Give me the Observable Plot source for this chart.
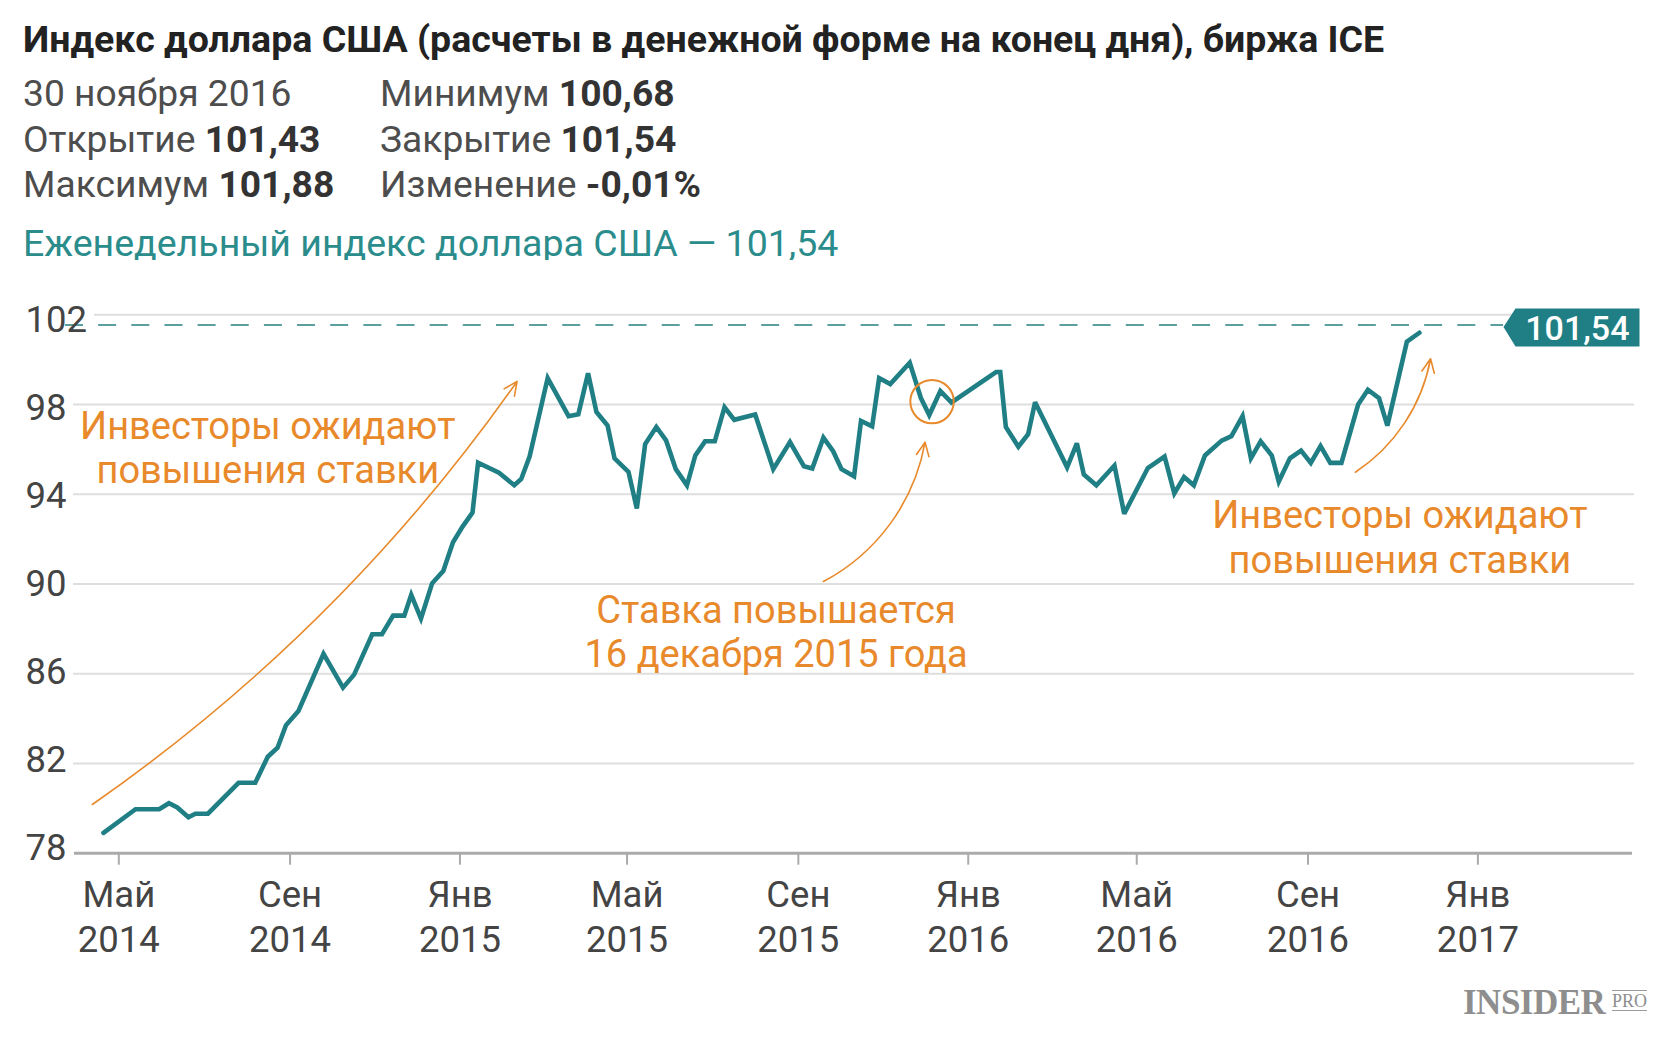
<!DOCTYPE html>
<html>
<head>
<meta charset="utf-8">
<script src="https://cdn.jsdelivr.net/npm/d3@7"></script>
<script src="https://cdn.jsdelivr.net/npm/@observablehq/plot@0.6"></script>
<style>
  html, body { margin: 0; padding: 0; background: #fff; }
  body { width: 1667px; height: 1049px; position: relative; overflow: hidden; font-family: Roboto, "Noto Sans", sans-serif; }
  .hl { position: absolute; white-space: nowrap; line-height: 45px; }
  .title { font-size: 37.5px; font-weight: 700; color: #222; }
  .stat { font-size: 37.2px; color: #4d4d4d; }
  .stat b { font-weight: 700; color: #333; }
  .series { font-size: 37.5px; color: #2b8c8c; }
  #chart { position: absolute; left: 0; top: 260px; }
  .logo { position: absolute; left: 1463px; top: 983px; font-family: "Liberation Serif", serif; font-weight: 700; font-size: 35px; line-height: 40px; color: #8e8e8e; letter-spacing: -0.5px; }
  .pro { position: absolute; left: 1612px; top: 990px; font-family: "Liberation Serif", serif; font-weight: 400; font-size: 18px; line-height: 18px; color: #8e8e8e; border-top: 1.5px solid #9a9a9a; border-bottom: 1.5px solid #9a9a9a; padding: 1px 0 0 0; }
</style>
</head>
<body>
<div id="header"></div>
<div id="chart"></div>
<div class="logo">INSIDER</div>
<div class="pro">PRO</div>
<script>
// ---------- data ----------
const title = "Индекс доллара США (расчеты в денежной форме на конец дня), биржа ICE";
const quoteDate = "30 ноября 2016";
const statLabels = ["Открытие", "Максимум", "Минимум", "Закрытие", "Изменение"];
const statValues = ["101,43", "101,88", "100,68", "101,54", "-0,01%"];
const seriesName = "Еженедельный индекс доллара США";
const lastValue = 101.54;

const dates = [
  "2014-04-20","2014-05-13","2014-05-30","2014-06-06","2014-06-12","2014-06-20","2014-06-25","2014-07-04",
  "2014-07-26","2014-08-07","2014-08-16","2014-08-23","2014-08-29","2014-09-07","2014-09-25","2014-10-09",
  "2014-10-17","2014-10-30","2014-11-06","2014-11-14","2014-11-22","2014-11-27","2014-12-04","2014-12-12",
  "2014-12-20","2014-12-27","2015-01-03","2015-01-10","2015-01-14","2015-01-29","2015-02-09","2015-02-14",
  "2015-02-20","2015-03-05","2015-03-20","2015-03-27","2015-04-03","2015-04-09","2015-04-17","2015-04-22",
  "2015-05-02","2015-05-08","2015-05-14","2015-05-22","2015-05-29","2015-06-05","2015-06-13","2015-06-19",
  "2015-06-26","2015-07-03","2015-07-10","2015-07-17","2015-08-01","2015-08-14","2015-08-26","2015-09-01",
  "2015-09-05","2015-09-11","2015-09-19","2015-09-26","2015-10-02","2015-10-11","2015-10-16","2015-10-24",
  "2015-10-29","2015-11-06","2015-11-20","2015-11-28","2015-12-04","2015-12-12","2015-12-20","2016-01-21",
  "2016-01-24","2016-01-28","2016-02-06","2016-02-13","2016-02-18","2016-03-12","2016-03-19","2016-03-24",
  "2016-04-02","2016-04-15","2016-04-22","2016-05-09","2016-05-21","2016-05-28","2016-06-04","2016-06-11",
  "2016-06-19","2016-07-01","2016-07-08","2016-07-16","2016-07-22","2016-07-29","2016-08-06","2016-08-11",
  "2016-08-19","2016-08-27","2016-09-03","2016-09-10","2016-09-17","2016-09-25","2016-10-07","2016-10-14",
  "2016-10-22","2016-10-28","2016-11-11","2016-11-20"
];
const values = [
  78.91, 79.96, 79.96, 80.23, 80.04, 79.60, 79.76, 79.76,
  81.14, 81.14, 82.30, 82.70, 83.70, 84.34, 86.89, 85.38,
  85.96, 87.76, 87.76, 88.59, 88.59, 89.52, 88.46, 90.03,
  90.58, 91.86, 92.57, 93.18, 95.41, 94.96, 94.40, 94.68,
  95.68, 99.18, 97.48, 97.57, 99.39, 97.67, 97.06, 95.60,
  95.00, 93.37, 96.24, 97.00, 96.40, 95.12, 94.40, 95.73,
  96.36, 96.36, 97.88, 97.32, 97.56, 95.12, 96.33, 95.68,
  95.25, 95.15, 96.52, 95.92, 95.12, 94.80, 97.27, 97.03,
  99.18, 98.91, 99.86, 98.29, 97.53, 98.60, 98.09, 99.45,
  99.45, 97.00, 96.12, 96.68, 98.10, 95.20, 96.27, 94.88,
  94.40, 95.28, 93.13, 95.17, 95.68, 94.04, 94.77, 94.40,
  95.73, 96.39, 96.59, 97.48, 95.60, 96.36, 95.73, 94.56,
  95.60, 95.95, 95.40, 96.15, 95.40, 95.40, 98.00, 98.66,
  98.28, 97.06, 100.80, 101.20
];

const yTicks = [78, 82, 86, 90, 94, 98, 102];
const xTickDates = ["2014-05-01","2014-09-01","2015-01-01","2015-05-01","2015-09-01","2016-01-01","2016-05-01","2016-09-01","2017-01-01"];
const xTickMonths = ["Май","Сен","Янв","Май","Сен","Янв","Май","Сен","Янв"];
const xTickYears = ["2014","2014","2015","2015","2015","2016","2016","2016","2017"];
const xDomain = ["2014-05-01", "2017-01-01"];

// annotations (in data space)
const noteLines = [
  {date: "2014-08-16", value: 96.48, text: "Инвесторы ожидают"},
  {date: "2014-08-16", value: 94.48, text: "повышения ставки"},
  {date: "2015-08-16", value: 88.28, text: "Ставка повышается"},
  {date: "2015-08-16", value: 86.28, text: "16 декабря 2015 года"},
  {date: "2016-11-06", value: 92.50, text: "Инвесторы ожидают"},
  {date: "2016-11-06", value: 90.50, text: "повышения ставки"}
];
const noteArrows = [
  {x1: "2014-04-12", y1: 80.17, x2: "2015-02-11", y2: 99.03},
  {x1: "2015-09-19", y1: 90.11, x2: "2015-12-01", y2: 96.32},
  {x1: "2016-10-05", y1: 94.98, x2: "2016-11-28", y2: 100.04}
];
const rateHike = [{date: "2015-12-06", value: 98.13}];

// ---------- header ----------
const fmt = (v) => String(v).replace(".", ",");
const header = document.getElementById("header");
function addLine(html, cls, left, top) {
  const d = document.createElement("div");
  d.className = "hl " + cls;
  d.style.left = left + "px";
  d.style.top = top + "px";
  d.innerHTML = html;
  header.appendChild(d);
}
addLine(title, "title", 23, 17.4);
addLine(quoteDate, "stat", 23, 70.8);
addLine(`${statLabels[0]} <b>${statValues[0]}</b>`, "stat", 23, 116.5);
addLine(`${statLabels[1]} <b>${statValues[1]}</b>`, "stat", 23, 162.1);
addLine(`${statLabels[2]} <b>${statValues[2]}</b>`, "stat", 380, 70.8);
addLine(`${statLabels[3]} <b>${statValues[3]}</b>`, "stat", 380, 116.5);
addLine(`${statLabels[4]} <b>${statValues[4]}</b>`, "stat", 380, 162.1);
addLine(`${seriesName} — ${fmt(lastValue)}`, "series", 23, 221.2);

// ---------- chart ----------
const parse = d3.utcParse("%Y-%m-%d");
const data = dates.map((d, i) => ({date: parse(d), value: values[i]}));
const ticks = xTickDates.map((d, i) => ({date: parse(d), month: xTickMonths[i], year: xTickYears[i]}));
const notes = noteLines.map(d => ({...d, date: parse(d.date)}));
const arrows = noteArrows.map(d => ({...d, x1: parse(d.x1), x2: parse(d.x2)}));
const circle = rateHike.map(d => ({...d, date: parse(d.date)}));
const arrowBends = [-10, -26, -23];

const teal = "#1f7f84";
const orange = "#e8892b";
const font = "Roboto, 'Noto Sans', sans-serif";

const badgeSymbol = {
  draw(ctx) {
    ctx.moveTo(-131, 2);
    ctx.lineTo(-119, -16.5);
    ctx.lineTo(5, -16.5);
    ctx.lineTo(5, 21.5);
    ctx.lineTo(-119, 21.5);
    ctx.closePath();
  }
};

const chart = Plot.plot({
  width: 1667,
  height: 789,
  marginLeft: 73,
  marginRight: 33,
  marginTop: 0,
  marginBottom: 196.3,
  x: {type: "utc", domain: xDomain.map(parse), range: [118.3, 1477.4], axis: null},
  y: {domain: [78, 102], range: [592.7, 54.3], axis: null},
  style: {fontFamily: font, background: "white", overflow: "visible"},
  marks: [
    // grid
    Plot.ruleY(yTicks.filter(t => t > 78 && t < 102), {y: d => d, stroke: "#dedede", strokeWidth: 2}),
    Plot.ruleY(yTicks.filter(t => t === 102), {y: d => d, stroke: "#dedede", strokeWidth: 2, insetLeft: 21}),
    // x axis line and ticks
    Plot.ruleY(yTicks.filter(t => t === 78), {y: d => d, stroke: "#ababab", strokeWidth: 3, insetLeft: 1, insetRight: 2}),
    Plot.ruleX(ticks, {x: "date", y1: 78, y2: 78, insetBottom: -12, stroke: "#ababab", strokeWidth: 2}),
    // last-value dashed reference
    Plot.ruleY([lastValue], {y: d => d, stroke: "#5c9fa1", strokeWidth: 2, strokeDasharray: "18,15.15", insetLeft: -8, insetRight: 131}),
    // series line
    Plot.line(data, {x: "date", y: "value", stroke: teal, strokeWidth: 4.6, strokeLinejoin: "miter", strokeMiterlimit: 3, strokeLinecap: "round"}),
    // annotations
    Plot.dot(circle, {x: "date", y: "value", r: 21.7, stroke: orange, strokeWidth: 2, fill: "none"}),
    ...arrows.map((a, i) => Plot.arrow([a], {x1: "x1", y1: "y1", x2: "x2", y2: "y2", bend: arrowBends[i], stroke: orange, strokeWidth: 1.6, headLength: 14, headAngle: 50})),
    Plot.text(notes, {x: "date", y: "value", text: "text", lineAnchor: "bottom", textAnchor: "middle", fill: orange, fontSize: 38}),
    // y labels (slightly spread vertically, as in the original)
    ...yTicks.map(t => Plot.text([t], {y: d => d, text: d => String(d), frameAnchor: "left", dx: -48, dy: (t - 90) * 0.4 + 0.4, textAnchor: "start", lineAnchor: "middle", fill: "#444", fontSize: 36.5})),
    // x labels
    Plot.text(ticks, {x: "date", text: "month", frameAnchor: "bottom", dy: 54, lineAnchor: "bottom", textAnchor: "middle", fill: "#444", fontSize: 36.5}),
    Plot.text(ticks, {x: "date", text: "year", frameAnchor: "bottom", dy: 99, lineAnchor: "bottom", textAnchor: "middle", fill: "#444", fontSize: 36.5}),
    // badge with last value
    Plot.dot([lastValue], {y: d => d, frameAnchor: "right", symbol: badgeSymbol, r: 1, fill: teal, stroke: "none"}),
    Plot.text([lastValue], {y: d => d, text: d => fmt(d), frameAnchor: "right", dx: -5, dy: 4, textAnchor: "end", lineAnchor: "middle", fill: "white", fontSize: 34, fontWeight: 500})
  ]
});
document.getElementById("chart").appendChild(chart);
</script>
</body>
</html>
